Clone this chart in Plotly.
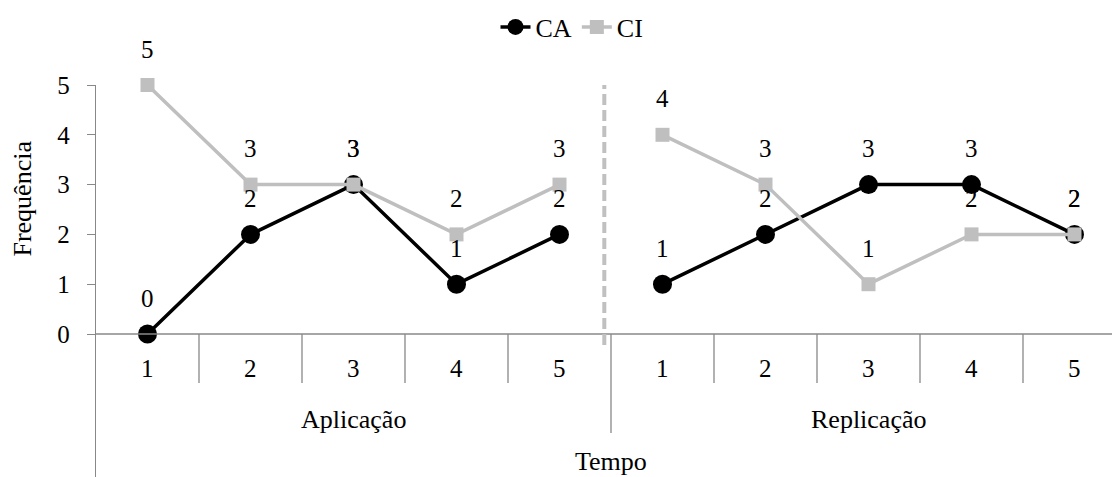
import plotly.graph_objects as go

groups = ["Aplicação", "Replicação"]
tempos = ["1", "2", "3", "4", "5"]
ca_aplic = [0, 2, 3, 1, 2]
ca_repl = [1, 2, 3, 3, 2]
ci_aplic = [5, 3, 3, 2, 3]
ci_repl = [4, 3, 1, 2, 2]
y_ticks = [0, 1, 2, 3, 4, 5]

FONT = "Liberation Serif"
FS = 25
AXIS_COLOR = "#888888"
PX_PER_UNIT = 49.8

n = len(tempos)
idx_a = list(range(n))
idx_r = [n + i for i in range(n)]


def with_gap(a, b):
    x = idx_a + [n - 0.5] + idx_r
    y = list(a) + [None] + list(b)
    return x, y


fig = go.Figure()
x_ca, y_ca = with_gap(ca_aplic, ca_repl)
x_ci, y_ci = with_gap(ci_aplic, ci_repl)

fig.add_trace(go.Scatter(
    x=x_ca, y=y_ca, name="CA", mode="lines+markers",
    line=dict(color="black", width=3.5),
    marker=dict(symbol="circle", size=19, color="black"),
    connectgaps=False, cliponaxis=False,
))
fig.add_trace(go.Scatter(
    x=x_ci, y=y_ci, name="CI", mode="lines+markers",
    line=dict(color="#bfbfbf", width=3.5),
    marker=dict(symbol="square", size=14, color="#bfbfbf"),
    connectgaps=False, cliponaxis=False,
))

annotations = []
# data labels
for xs, ys in ((x_ca, y_ca), (x_ci, y_ci)):
    for xv, yv in zip(xs, ys):
        if yv is None:
            continue
        annotations.append(dict(
            x=xv, y=yv, xref="x", yref="y", text=str(yv), showarrow=False,
            yshift=36, font=dict(family=FONT, size=FS, color="black"),
        ))

# category labels (tempo)
for gi in range(len(groups)):
    for ti, t in enumerate(tempos):
        annotations.append(dict(
            x=gi * n + ti, y=0, xref="x", yref="y", text=t, showarrow=False,
            yshift=-34, yanchor="middle",
            font=dict(family=FONT, size=FS, color="black"),
        ))
# group labels
for gi, g in enumerate(groups):
    annotations.append(dict(
        x=gi * n + (n - 1) / 2, y=0, xref="x", yref="y", text=g, showarrow=False,
        yshift=-85, yanchor="middle",
        font=dict(family=FONT, size=FS + 1, color="black"),
    ))
# axis titles
annotations.append(dict(
    x=n - 0.5, y=0, xref="x", yref="y", text="Tempo", showarrow=False,
    yshift=-127, yanchor="middle",
    font=dict(family=FONT, size=FS + 1, color="black"),
))
annotations.append(dict(
    x=0, y=2.72, xref="paper", yref="y", text="Frequência", showarrow=False,
    xshift=-73, textangle=-90, xanchor="center", yanchor="middle",
    font=dict(family=FONT, size=FS + 1, color="black"),
))

shapes = []
# x axis line at 0
shapes.append(dict(type="line", xref="paper", yref="y", x0=0, x1=1, y0=0, y1=0,
                   line=dict(color=AXIS_COLOR, width=1.3)))
# category dividers
for k in range(1, 2 * n):
    long = (k == n)
    depth = 99 if long else 49
    shapes.append(dict(type="line", xref="x", yref="y",
                       x0=k - 0.5, x1=k - 0.5, y0=0, y1=-depth / PX_PER_UNIT,
                       line=dict(color=AXIS_COLOR, width=1.3)))
# dashed separator between phases
shapes.append(dict(type="line", xref="x", yref="y",
                   x0=n - 0.565, x1=n - 0.565, y0=5.46, y1=-0.30,
                   line=dict(color="#c0c0c0", width=4, dash="11px,5px")))

W, H = 1112, 477
L, T = 96, 85
plot_h = H - T
y_top = 5
y_bottom = y_top - plot_h / PX_PER_UNIT
cat_w = 103
x_left = -0.5
x_right = x_left + (W - L) / cat_w

fig.update_layout(
    width=W, height=H,
    margin=dict(l=L, r=0, t=T, b=0, pad=0),
    paper_bgcolor="white", plot_bgcolor="white",
    font=dict(family=FONT, size=FS, color="black"),
    showlegend=True,
    legend=dict(orientation="h", x=(572 - L) / (W - L), xanchor="center",
                y=1 + (T - 27) / plot_h, yanchor="middle",
                font=dict(family=FONT, size=FS + 1, color="black"),
                bgcolor="rgba(0,0,0,0)", itemwidth=30, traceorder="normal"),
    xaxis=dict(range=[x_left, x_right], showgrid=False, zeroline=False,
               showticklabels=False, ticks="", showline=False, fixedrange=True),
    yaxis=dict(range=[y_bottom, y_top], showgrid=False, zeroline=False,
               tickvals=y_ticks, ticktext=[str(v) for v in y_ticks],
               ticks="outside", ticklen=8, tickcolor=AXIS_COLOR, tickwidth=1.3,
               showline=True, linecolor=AXIS_COLOR, linewidth=1.3,
               tickfont=dict(family=FONT, size=FS, color="black"),
               ticklabelstandoff=12, fixedrange=True),
    annotations=annotations,
    shapes=shapes,
)

fig.write_html("out.html")
